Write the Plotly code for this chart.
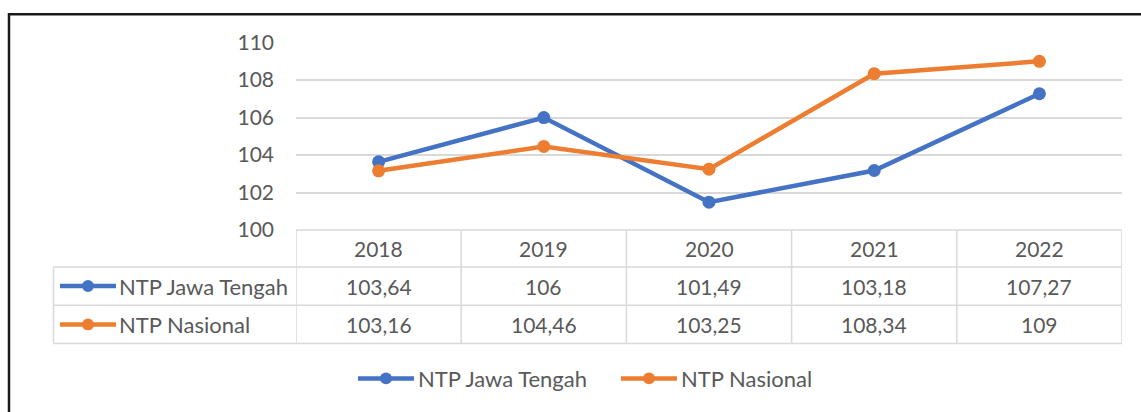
import plotly.graph_objects as go

# ---- data ----
years = ["2018", "2019", "2020", "2021", "2022"]
series_names = ["NTP Jawa Tengah", "NTP Nasional"]
ntp_jateng = [103.64, 106, 101.49, 103.18, 107.27]
ntp_nasional = [103.16, 104.46, 103.25, 108.34, 109]
y_ticks = [100, 102, 104, 106, 108, 110]
colors = ["#4472C4", "#ED7D31"]

W, H = 1141, 412
FONT = "Lato"
TXT = "#595959"
GRID = "#D9D9D9"
NAME_SIZE = 22
NUM_SIZE = 21

# vertical calibration (observed rendering offset)
SY, OY = 0.944, 12.8


def px(x):
    return x / W


def py(y):
    return 1 - ((y - OY) / SY) / H


def fmt(v):
    return f"{v:g}".replace(".", ",")


# layout geometry (pixels)
X0, X1 = 296, 1122          # plot / table value columns
Y_TOP, Y_BOT = 41.5, 230    # 110 and 100 gridlines
T_LEFT = 53.5
ROWS = [230, 267, 305.5, 344]

fig = go.Figure()
all_series = [ntp_jateng, ntp_nasional]
for name, vals, c in zip(series_names, all_series, colors):
    fig.add_trace(go.Scatter(
        x=list(range(len(years))), y=vals, name=name, mode="lines+markers",
        line=dict(color=c, width=4.5), marker=dict(color=c, size=13),
        showlegend=False, cliponaxis=False,
    ))

shapes = []
annotations = []

# outer frame (left + top)
shapes.append(dict(type="path", xref="paper", yref="paper",
                   path=f"M {px(9)} {py(430)} L {px(9)} {py(13)} L {px(1150)} {py(13)}",
                   line=dict(color="#1a1a1a", width=2.5)))

# table horizontal lines
shapes.append(dict(type="line", xref="paper", yref="paper", x0=px(X0), x1=px(X1),
                   y0=py(ROWS[0]), y1=py(ROWS[0]), line=dict(color=GRID, width=1.5)))
for r in ROWS[1:]:
    shapes.append(dict(type="line", xref="paper", yref="paper", x0=px(T_LEFT), x1=px(X1),
                       y0=py(r), y1=py(r), line=dict(color=GRID, width=1.5)))
# table vertical lines
shapes.append(dict(type="line", xref="paper", yref="paper", x0=px(T_LEFT), x1=px(T_LEFT),
                   y0=py(ROWS[1]), y1=py(ROWS[3]), line=dict(color=GRID, width=1.5)))
for i in range(len(years) + 1):
    xv = i - 0.5
    shapes.append(dict(type="line", xref="x", yref="paper", x0=xv, x1=xv,
                       y0=py(ROWS[0]), y1=py(ROWS[3]), line=dict(color=GRID, width=1.5)))

# header years
for i, yr in enumerate(years):
    annotations.append(dict(x=i, y=py((ROWS[0] + ROWS[1]) / 2), xref="x", yref="paper",
                            text=yr, showarrow=False, font=dict(family=FONT, size=NUM_SIZE, color=TXT),
                            xanchor="center", yanchor="middle"))


def legend_sample(xs, xe, yc, c):
    shapes.append(dict(type="line", xref="paper", yref="paper", x0=px(xs), x1=px(xe),
                       y0=py(yc), y1=py(yc), line=dict(color=c, width=4.5)))
    r = 6
    xm = (xs + xe) / 2
    shapes.append(dict(type="circle", xref="paper", yref="paper", x0=px(xm - r), x1=px(xm + r),
                       y0=py(yc - r), y1=py(yc + r), fillcolor=c, line=dict(color=c, width=0)))


# table rows
for k, (name, vals, c) in enumerate(zip(series_names, all_series, colors)):
    yc = (ROWS[k + 1] + ROWS[k + 2]) / 2
    legend_sample(60, 116, yc, c)
    annotations.append(dict(x=px(117), y=py(yc), xref="paper", yref="paper", text=name,
                            showarrow=False, font=dict(family=FONT, size=NAME_SIZE, color=TXT),
                            xanchor="left", yanchor="middle"))
    for i, v in enumerate(vals):
        annotations.append(dict(x=i, y=py(yc), xref="x", yref="paper", text=fmt(v),
                                showarrow=False, font=dict(family=FONT, size=NUM_SIZE, color=TXT),
                                xanchor="center", yanchor="middle"))

# bottom legend
leg_y = 379
leg_x = [358, 621]
for name, c, lx in zip(series_names, colors, leg_x):
    legend_sample(lx, lx + 56, leg_y, c)
    annotations.append(dict(x=px(lx + 58), y=py(leg_y), xref="paper", yref="paper", text=name,
                            showarrow=False, font=dict(family=FONT, size=NAME_SIZE, color=TXT),
                            xanchor="left", yanchor="middle"))

fig.update_layout(
    width=W, height=H, margin=dict(l=0, r=0, t=0, b=0),
    paper_bgcolor="white", plot_bgcolor="white",
    shapes=shapes, annotations=annotations, showlegend=False,
    xaxis=dict(domain=[px(X0), px(X1)], range=[-0.5, len(years) - 0.5],
               showticklabels=False, showgrid=False, zeroline=False, showline=False,
               fixedrange=True),
    yaxis=dict(domain=[py(Y_BOT), py(Y_TOP)], range=[100, 110], tickvals=y_ticks,
               showgrid=True, gridcolor=GRID, gridwidth=1.5, zeroline=False, showline=False,
               tickfont=dict(family=FONT, size=NUM_SIZE, color=TXT), ticks="",
               ticklabelstandoff=21, fixedrange=True),
)

fig.write_html(
    "out.html",
    config={"displayModeBar": False},
    post_script=(
        "var d=document.getElementById('{plot_id}');"
        "d.style.position='fixed';d.style.top='0px';d.style.left='0px';"
        "document.body.style.margin='0';document.body.style.overflow='hidden';"
    ),
)
